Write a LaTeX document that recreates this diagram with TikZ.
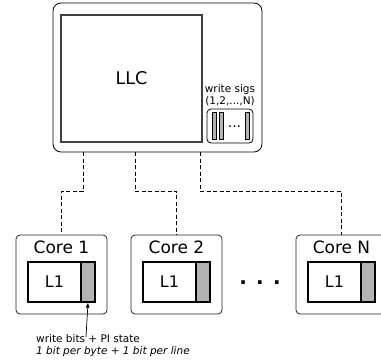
\documentclass[tikz,border=0pt]{standalone}
\usepackage{fontspec}
\setmainfont{DejaVu Sans}
\usetikzlibrary{arrows.meta}
\definecolor{barfill}{HTML}{B3B3B3}
\definecolor{darkline}{HTML}{404040}
\tikzset{
  outerbox/.style={draw=black, line width=0.8pt, rounded corners=8pt, inner sep=0pt},
  llcbox/.style={draw=darkline, line width=1.6pt, inner sep=0pt},
  sigbox/.style={draw=black, line width=0.8pt, rounded corners=4pt, inner sep=0pt},
  sigbar/.style={draw=black, fill=barfill, line width=0.7pt, minimum width=4pt, minimum height=27pt, inner sep=0pt},
  corebox/.style={draw=black!85, line width=0.8pt, rounded corners=4pt, minimum width=91pt, minimum height=79pt, inner sep=0pt},
  l1box/.style={draw=black, line width=1.2pt, fill=white, minimum width=53pt, minimum height=40pt, inner sep=0pt, font=\fontsize{16}{18}\selectfont},
  l1bits/.style={draw=black, line width=1.2pt, fill=barfill, minimum width=14pt, minimum height=40pt, inner sep=0pt},
  corelabel/.style={font=\fontsize{17}{19}\selectfont, inner sep=0pt},
  dl/.style={draw=black, line width=0.8pt, dash pattern=on 4pt off 2.5pt},
  small/.style={font=\fontsize{10.5}{12}\selectfont, inner sep=0pt}
}
\begin{document}
\begin{tikzpicture}[x=1pt,y=-1pt]
\clip (0,0) rectangle (381,362);
\fill[white] (0,0) rectangle (381,362);
% LLC block
\node[outerbox, minimum width=209pt, minimum height=149pt] (llcouter) at (157.5,77.5) {};
\node[llcbox, minimum width=141pt, minimum height=127pt, font=\fontsize{17.5}{20}\selectfont] (llc) at (131.5,78.5) {LLC};
\node[small, align=center, font=\fontsize{10.5}{12.5}\selectfont] (sigtext) at (230,95) {write sigs\\(1,2,...,N)};
\node[sigbox, minimum width=46pt, minimum height=34pt] (sigs) at (230,126) {};
\node[sigbar] (bar1) at (214,125.5) {};
\node[sigbar] (bar2) at (221,125.5) {};
\node[sigbar] (bar3) at (247,125.5) {};
\node[small, font=\fontsize{14}{16}\selectfont] (sigdots) at (234.5,127) {...};
% cores
\node[corebox] (core1) at (61.5,274.5) {};
\node[corelabel] (c1lab) at (61.5,247) {Core 1};
\node[l1box] (l1a) at (54.5,282) {L1};
\node[l1bits] (g1) at (88,282) {};
\node[corebox] (core2) at (176.5,274.5) {};
\node[corelabel] (c2lab) at (176.5,247) {Core 2};
\node[l1box] (l1b) at (169.5,282) {L1};
\node[l1bits] (g2) at (203,282) {};
\node[corebox] (coreN) at (341.5,274.5) {};
\node[corelabel] (cNlab) at (341.5,247) {Core N};
\node[l1box] (l1n) at (334.5,282) {L1};
\node[l1bits] (gN) at (368,282) {};
\node[font=\bfseries\fontsize{20}{24}\selectfont, inner sep=0pt] (dots) at (260,283) {. . .};
% dashed links
\draw[dl] ([xshift=-74.5pt]llcouter.south) -- ++(0,39) -| (core1.north);
\draw[dl] ([xshift=-22.5pt]llcouter.south) -- ++(0,39) -| (core2.north);
\draw[dl] ([xshift=42.5pt]llcouter.south) -- ++(0,39) -| (coreN.north);
% note
\node[small, align=left, anchor=north west] (note) at (36,334) {write bits + PI state\\\itshape 1 bit per byte + 1 bit per line};
\coordinate (arrstart) at (86,337);
\draw[line width=0.7pt, -{Latex[length=5pt,width=4pt]}] (arrstart) -- (g1.south);
\end{tikzpicture}
\end{document}
